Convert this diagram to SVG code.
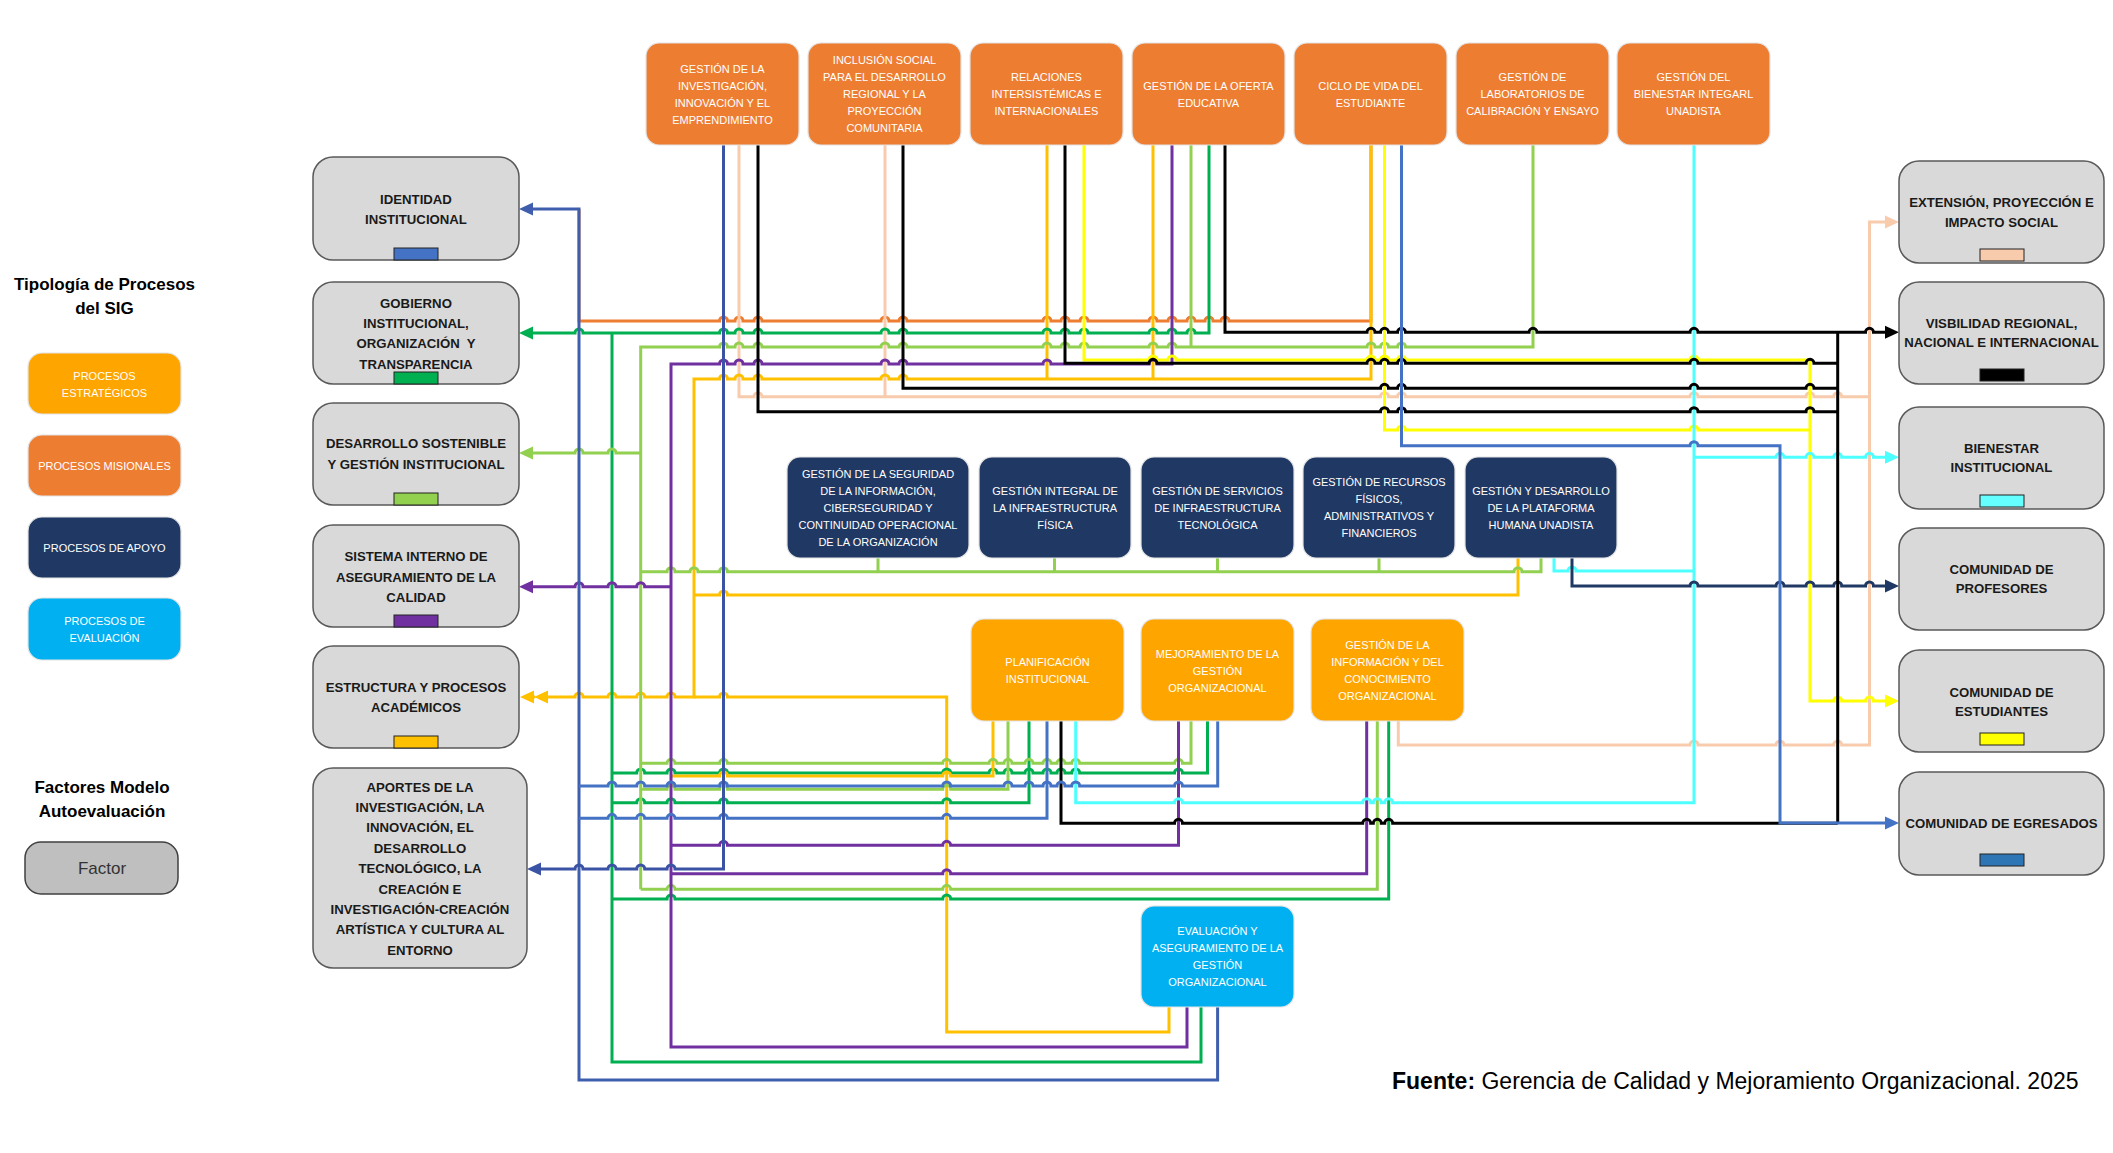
<svg xmlns="http://www.w3.org/2000/svg" width="2113" height="1153" viewBox="0 0 2113 1153">
<style>
.t{font-family:"Liberation Sans",Arial,sans-serif;font-size:11px;fill:#fff;text-anchor:middle}
.f{font-family:"Liberation Sans",Arial,sans-serif;font-size:13.2px;font-weight:bold;fill:#1a1a1a;text-anchor:middle}
.lg{font-family:"Liberation Sans",Arial,sans-serif;font-size:17px;font-weight:bold;fill:#000;text-anchor:middle}
.mis{fill:#ED7D31;stroke:#e3e3e3;stroke-width:1.2}
.apo{fill:#203864;stroke:#e3e3e3;stroke-width:1.2}
.est{fill:#FFA500;stroke:#e3e3e3;stroke-width:1.2}
.eva{fill:#00B0F0;stroke:#e3e3e3;stroke-width:1.2}
.fac{fill:#D9D9D9;stroke:#595959;stroke-width:1.5}
.sw{stroke:#222;stroke-width:1}
.ln{fill:none;stroke-width:3}
.o{stroke:#ED7D31}.pe{stroke:#F8CBAD}.go{stroke:#FFC000}.lgn{stroke:#92D050}.gn{stroke:#00B050}
.pu{stroke:#7030A0}.ye{stroke:#FFFF00}.cy{stroke:#4DFFFF}.nv{stroke:#203864}.bk{stroke:#000}
.b1{stroke:#3F5FAE}.b2{stroke:#4472C4}.b3{stroke:#3B53A4}
</style>
<defs>
<marker id="m-bk" markerUnits="userSpaceOnUse" markerWidth="15" markerHeight="14" viewBox="0 -7 15 14" refX="0" refY="0" orient="auto-start-reverse"><path d="M0,-6.5L14,0L0,6.5z" fill="#000"/></marker>
<marker id="m-pe" markerUnits="userSpaceOnUse" markerWidth="15" markerHeight="14" viewBox="0 -7 15 14" refX="0" refY="0" orient="auto-start-reverse"><path d="M0,-6.5L14,0L0,6.5z" fill="#F8CBAD"/></marker>
<marker id="m-go" markerUnits="userSpaceOnUse" markerWidth="15" markerHeight="14" viewBox="0 -7 15 14" refX="0" refY="0" orient="auto-start-reverse"><path d="M0,-6.5L14,0L0,6.5z" fill="#FFC000"/></marker>
<marker id="m-lg" markerUnits="userSpaceOnUse" markerWidth="15" markerHeight="14" viewBox="0 -7 15 14" refX="0" refY="0" orient="auto-start-reverse"><path d="M0,-6.5L14,0L0,6.5z" fill="#92D050"/></marker>
<marker id="m-gn" markerUnits="userSpaceOnUse" markerWidth="15" markerHeight="14" viewBox="0 -7 15 14" refX="0" refY="0" orient="auto-start-reverse"><path d="M0,-6.5L14,0L0,6.5z" fill="#00B050"/></marker>
<marker id="m-pu" markerUnits="userSpaceOnUse" markerWidth="15" markerHeight="14" viewBox="0 -7 15 14" refX="0" refY="0" orient="auto-start-reverse"><path d="M0,-6.5L14,0L0,6.5z" fill="#7030A0"/></marker>
<marker id="m-ye" markerUnits="userSpaceOnUse" markerWidth="15" markerHeight="14" viewBox="0 -7 15 14" refX="0" refY="0" orient="auto-start-reverse"><path d="M0,-6.5L14,0L0,6.5z" fill="#FFFF00"/></marker>
<marker id="m-cy" markerUnits="userSpaceOnUse" markerWidth="15" markerHeight="14" viewBox="0 -7 15 14" refX="0" refY="0" orient="auto-start-reverse"><path d="M0,-6.5L14,0L0,6.5z" fill="#4DFFFF"/></marker>
<marker id="m-nv" markerUnits="userSpaceOnUse" markerWidth="15" markerHeight="14" viewBox="0 -7 15 14" refX="0" refY="0" orient="auto-start-reverse"><path d="M0,-6.5L14,0L0,6.5z" fill="#203864"/></marker>
<marker id="m-b1" markerUnits="userSpaceOnUse" markerWidth="15" markerHeight="14" viewBox="0 -7 15 14" refX="0" refY="0" orient="auto-start-reverse"><path d="M0,-6.5L14,0L0,6.5z" fill="#3F5FAE"/></marker>
<marker id="m-b2" markerUnits="userSpaceOnUse" markerWidth="15" markerHeight="14" viewBox="0 -7 15 14" refX="0" refY="0" orient="auto-start-reverse"><path d="M0,-6.5L14,0L0,6.5z" fill="#4472C4"/></marker>
<marker id="m-b3" markerUnits="userSpaceOnUse" markerWidth="15" markerHeight="14" viewBox="0 -7 15 14" refX="0" refY="0" orient="auto-start-reverse"><path d="M0,-6.5L14,0L0,6.5z" fill="#3B53A4"/></marker>
</defs>
<rect width="2113" height="1153" fill="#fff"/>

<g id="connectors">
<path class="ln o" d="M579 209V321H719.5a4 4 0 0 1 8 0H735a4 4 0 0 1 8 0H754a4 4 0 0 1 8 0H881a4 4 0 0 1 8 0H899a4 4 0 0 1 8 0H1043a4 4 0 0 1 8 0H1061a4 4 0 0 1 8 0H1080a4 4 0 0 1 8 0H1149a4 4 0 0 1 8 0H1168a4 4 0 0 1 8 0H1187a4 4 0 0 1 8 0H1205a4 4 0 0 1 8 0H1221a4 4 0 0 1 8 0H1371V144"/>
<path class="ln pe" d="M739 144V396.7H754a4 4 0 0 1 8 0H1380.5a4 4 0 0 1 8 0H1397.5a4 4 0 0 1 8 0H1690a4 4 0 0 1 8 0H1806a4 4 0 0 1 8 0H1833.7a4 4 0 0 1 8 0H1869.5"/>
<path class="ln pe" d="M885 144V396.7"/>
<path class="ln pe" d="M1398.3 721V745H1690a4 4 0 0 1 8 0H1776a4 4 0 0 1 8 0H1833.7a4 4 0 0 1 8 0H1869.5V222H1885" marker-end="url(#m-pe)"/>

<path class="ln go" d="M548 697H575a4 4 0 0 1 8 0H608a4 4 0 0 1 8 0H636.7a4 4 0 0 1 8 0H667a4 4 0 0 1 8 0H694V379H719.5a4 4 0 0 1 8 0H735a4 4 0 0 1 8 0H754a4 4 0 0 1 8 0H881a4 4 0 0 1 8 0H899a4 4 0 0 1 8 0H1371V144" marker-start="url(#m-go)"/>
<path class="ln go" d="M534 697H535" marker-start="url(#m-go)"/>
<path class="ln go" d="M1047 144V379M1153 144V379"/>
<path class="ln go" d="M694 697H719.5a4 4 0 0 1 8 0H946.7V1032H1169V1007"/>
<path class="ln go" d="M694 595H719.5a4 4 0 0 1 8 0H1518V557"/>

<path class="ln gn" d="M533 333H575a4 4 0 0 1 8 0H719.5a4 4 0 0 1 8 0H735a4 4 0 0 1 8 0H754a4 4 0 0 1 8 0H881a4 4 0 0 1 8 0H899a4 4 0 0 1 8 0H1043a4 4 0 0 1 8 0H1061a4 4 0 0 1 8 0H1080a4 4 0 0 1 8 0H1149a4 4 0 0 1 8 0H1168a4 4 0 0 1 8 0H1187a4 4 0 0 1 8 0H1209V144" marker-start="url(#m-gn)"/>
<path class="ln gn" d="M612 333V1062H1201V1007"/>
<path class="ln gn" d="M612 773H636.7a4 4 0 0 1 8 0H667a4 4 0 0 1 8 0H719.5a4 4 0 0 1 8 0H942.7a4 4 0 0 1 8 0H989a4 4 0 0 1 8 0H1004a4 4 0 0 1 8 0H1025a4 4 0 0 1 8 0H1043a4 4 0 0 1 8 0H1057a4 4 0 0 1 8 0H1071.7a4 4 0 0 1 8 0H1174.5a4 4 0 0 1 8 0H1207.5V721"/>
<path class="ln gn" d="M612 802.7H636.7a4 4 0 0 1 8 0H667a4 4 0 0 1 8 0H719.5a4 4 0 0 1 8 0H942.7a4 4 0 0 1 8 0H1029V721"/>
<path class="ln gn" d="M612 899H667a4 4 0 0 1 8 0H942.7a4 4 0 0 1 8 0H1388.7V721"/>

<path class="ln go" d="M672 776H719.5a4 4 0 0 1 8 0H942.7a4 4 0 0 1 8 0H993V721"/>

<path class="ln lgn" d="M640.7 889.3V347H719.5a4 4 0 0 1 8 0H735a4 4 0 0 1 8 0H754a4 4 0 0 1 8 0H881a4 4 0 0 1 8 0H899a4 4 0 0 1 8 0H1043a4 4 0 0 1 8 0H1061a4 4 0 0 1 8 0H1080a4 4 0 0 1 8 0H1149a4 4 0 0 1 8 0H1168a4 4 0 0 1 8 0H1367a4 4 0 0 1 8 0H1380.5a4 4 0 0 1 8 0H1397.5a4 4 0 0 1 8 0H1533V144"/>
<path class="ln lgn" d="M1191 144V347"/>
<path class="ln lgn" d="M533 453H575a4 4 0 0 1 8 0H608a4 4 0 0 1 8 0H640.7" marker-start="url(#m-lg)"/>
<path class="ln lgn" d="M640.7 571.7H667a4 4 0 0 1 8 0H690a4 4 0 0 1 8 0H719.5a4 4 0 0 1 8 0H1514a4 4 0 0 1 8 0H1541V557"/>
<path class="ln lgn" d="M878 557V571.7M1054.5 557V571.7M1217.5 557V571.7M1379 557V571.7"/>
<path class="ln lgn" d="M640.7 763.3H667a4 4 0 0 1 8 0H719.5a4 4 0 0 1 8 0H942.7a4 4 0 0 1 8 0H989a4 4 0 0 1 8 0H1004a4 4 0 0 1 8 0H1025a4 4 0 0 1 8 0H1043a4 4 0 0 1 8 0H1057a4 4 0 0 1 8 0H1071.7a4 4 0 0 1 8 0H1174.5a4 4 0 0 1 8 0H1191V721"/>
<path class="ln lgn" d="M640.7 789.3H667a4 4 0 0 1 8 0H719.5a4 4 0 0 1 8 0H942.7a4 4 0 0 1 8 0H1008V721"/>
<path class="ln lgn" d="M640.7 889.3H667a4 4 0 0 1 8 0H942.7a4 4 0 0 1 8 0H1377.3V721"/>

<path class="ln pu" d="M1187 1007V1047H671V364H719.5a4 4 0 0 1 8 0H735a4 4 0 0 1 8 0H754a4 4 0 0 1 8 0H881a4 4 0 0 1 8 0H899a4 4 0 0 1 8 0H1043a4 4 0 0 1 8 0H1149a4 4 0 0 1 8 0H1172V144"/>
<path class="ln pu" d="M533 586.7H575a4 4 0 0 1 8 0H608a4 4 0 0 1 8 0H636.7a4 4 0 0 1 8 0H671" marker-start="url(#m-pu)"/>
<path class="ln pu" d="M671 845.3H719.5a4 4 0 0 1 8 0H942.7a4 4 0 0 1 8 0H1178.5V721"/>
<path class="ln pu" d="M671 873.7H942.7a4 4 0 0 1 8 0H1366.7V721"/>

<path class="ln ye" d="M1084 144V360H1149a4 4 0 0 1 8 0H1168a4 4 0 0 1 8 0H1367a4 4 0 0 1 8 0H1380.5a4 4 0 0 1 8 0H1397.5a4 4 0 0 1 8 0H1690a4 4 0 0 1 8 0H1810V701H1833.7a4 4 0 0 1 8 0H1865.5a4 4 0 0 1 8 0H1885" marker-end="url(#m-ye)"/>
<path class="ln ye" d="M1384.5 144V430H1397.5a4 4 0 0 1 8 0H1690a4 4 0 0 1 8 0H1810"/>

<path class="ln cy" d="M1075.7 721V802.7H1174.5a4 4 0 0 1 8 0H1362.7a4 4 0 0 1 8 0H1373.3a4 4 0 0 1 8 0H1384.7a4 4 0 0 1 8 0H1694V144"/>
<path class="ln cy" d="M1694 457.3H1776a4 4 0 0 1 8 0H1806a4 4 0 0 1 8 0H1833.7a4 4 0 0 1 8 0H1865.5a4 4 0 0 1 8 0H1885" marker-end="url(#m-cy)"/>
<path class="ln cy" d="M1554 557V571H1568a4 4 0 0 1 8 0H1694"/>

<path class="ln nv" d="M1572 557V586H1690a4 4 0 0 1 8 0H1776a4 4 0 0 1 8 0H1806a4 4 0 0 1 8 0H1833.7a4 4 0 0 1 8 0H1865.5a4 4 0 0 1 8 0H1885" marker-end="url(#m-nv)"/>

<path class="ln bk" d="M1225 144V332.3H1367a4 4 0 0 1 8 0H1380.5a4 4 0 0 1 8 0H1397.5a4 4 0 0 1 8 0H1529a4 4 0 0 1 8 0H1690a4 4 0 0 1 8 0H1865.5a4 4 0 0 1 8 0H1885" marker-end="url(#m-bk)"/>
<path class="ln bk" d="M1837.7 332.3V823.3"/>
<path class="ln bk" d="M1065 144V363.3H1149a4 4 0 0 1 8 0H1367a4 4 0 0 1 8 0H1380.5a4 4 0 0 1 8 0H1397.5a4 4 0 0 1 8 0H1690a4 4 0 0 1 8 0H1806a4 4 0 0 1 8 0H1837.7"/>
<path class="ln bk" d="M903 144V388.3H1380.5a4 4 0 0 1 8 0H1397.5a4 4 0 0 1 8 0H1690a4 4 0 0 1 8 0H1806a4 4 0 0 1 8 0H1837.7"/>
<path class="ln bk" d="M758 144V411.7H1380.5a4 4 0 0 1 8 0H1397.5a4 4 0 0 1 8 0H1690a4 4 0 0 1 8 0H1806a4 4 0 0 1 8 0H1837.7"/>
<path class="ln bk" d="M1061 721V823.3H1174.5a4 4 0 0 1 8 0H1362.7a4 4 0 0 1 8 0H1373.3a4 4 0 0 1 8 0H1384.7a4 4 0 0 1 8 0H1837.7"/>

<path class="ln b1" d="M533 209H579V1080H1217.6V1007" marker-start="url(#m-b1)"/>
<path class="ln b2" d="M579 786H608a4 4 0 0 1 8 0H636.7a4 4 0 0 1 8 0H667a4 4 0 0 1 8 0H719.5a4 4 0 0 1 8 0H942.7a4 4 0 0 1 8 0H1004a4 4 0 0 1 8 0H1025a4 4 0 0 1 8 0H1043a4 4 0 0 1 8 0H1057a4 4 0 0 1 8 0H1071.7a4 4 0 0 1 8 0H1174.5a4 4 0 0 1 8 0H1217.7V721"/>
<path class="ln b2" d="M579 818.3H608a4 4 0 0 1 8 0H636.7a4 4 0 0 1 8 0H667a4 4 0 0 1 8 0H719.5a4 4 0 0 1 8 0H942.7a4 4 0 0 1 8 0H1047V721"/>
<path class="ln b3" d="M541 869H575a4 4 0 0 1 8 0H608a4 4 0 0 1 8 0H636.7a4 4 0 0 1 8 0H667a4 4 0 0 1 8 0H723.5V144" marker-start="url(#m-b3)"/>
<path class="ln b2" d="M1401.5 144V445.7H1690a4 4 0 0 1 8 0H1780V823H1885" marker-end="url(#m-b2)"/>
</g>

<g id="legend">
<text class="lg" x="104.5" y="290">Tipología de Procesos</text>
<text class="lg" x="104.5" y="314">del SIG</text>
<g id="leg-estrategicos"><rect class="est" x="28" y="353" width="153" height="61" rx="14"/><text class="t" x="104.5" y="380">PROCESOS</text><text class="t" x="104.5" y="396.5">ESTRATÉGICOS</text></g>
<g id="leg-misionales"><rect class="mis" x="28" y="435" width="153" height="61" rx="14"/><text class="t" x="104.5" y="470">PROCESOS MISIONALES</text></g>
<g id="leg-apoyo"><rect class="apo" x="28" y="517" width="153" height="61" rx="14"/><text class="t" x="104.5" y="551.5">PROCESOS DE APOYO</text></g>
<g id="leg-evaluacion"><rect class="eva" x="28" y="598" width="153" height="62" rx="14"/><text class="t" x="104.5" y="625">PROCESOS DE</text><text class="t" x="104.5" y="641.5">EVALUACIÓN</text></g>
<text class="lg" x="102" y="793">Factores Modelo</text>
<text class="lg" x="102" y="817">Autoevaluación</text>
<g id="leg-factor"><rect x="25" y="842" width="153" height="52" rx="16" fill="#BFBFBF" stroke="#404040" stroke-width="1.5"/><text x="102" y="874" font-family="Liberation Sans, Arial, sans-serif" font-size="17" fill="#333" text-anchor="middle">Factor</text></g>
</g>

<g id="n-identidad"><rect class="fac" x="313" y="157" width="206" height="103" rx="20"/><text class="f" x="416" y="204">IDENTIDAD</text><text class="f" x="416" y="224">INSTITUCIONAL</text><rect class="sw" x="394" y="248" width="44" height="12" fill="#4472C4"/></g>
<g id="n-gobierno"><rect class="fac" x="313" y="282" width="206" height="102" rx="20"/><text class="f" x="416" y="307.5">GOBIERNO</text><text class="f" x="416" y="327.5">INSTITUCIONAL,</text><text class="f" x="416" y="348" xml:space="preserve">ORGANIZACIÓN  Y</text><text class="f" x="416" y="368.5">TRANSPARENCIA</text><rect class="sw" x="394" y="372" width="44" height="12" fill="#00B050"/></g>
<g id="n-desarrollo"><rect class="fac" x="313" y="403" width="206" height="102" rx="20"/><text class="f" x="416" y="448">DESARROLLO SOSTENIBLE</text><text class="f" x="416" y="469">Y GESTIÓN INSTITUCIONAL</text><rect class="sw" x="394" y="493" width="44" height="12" fill="#92D050"/></g>
<g id="n-sistema"><rect class="fac" x="313" y="525" width="206" height="102" rx="20"/><text class="f" x="416" y="561">SISTEMA INTERNO DE</text><text class="f" x="416" y="581.5">ASEGURAMIENTO DE LA</text><text class="f" x="416" y="601.5">CALIDAD</text><rect class="sw" x="394" y="615" width="44" height="12" fill="#7030A0"/></g>
<g id="n-estructura"><rect class="fac" x="313" y="646" width="206" height="102" rx="20"/><text class="f" x="416" y="691.5">ESTRUCTURA Y PROCESOS</text><text class="f" x="416" y="712">ACADÉMICOS</text><rect class="sw" x="394" y="736" width="44" height="12" fill="#FFC000"/></g>
<g id="n-aportes"><rect class="fac" x="313" y="768" width="214" height="200" rx="20"/>
<text class="f" x="420" y="791.5">APORTES DE LA</text><text class="f" x="420" y="811.9">INVESTIGACIÓN, LA</text><text class="f" x="420" y="832.3">INNOVACIÓN, EL</text><text class="f" x="420" y="852.7">DESARROLLO</text><text class="f" x="420" y="873.1">TECNOLÓGICO, LA</text><text class="f" x="420" y="893.5">CREACIÓN E</text><text class="f" x="420" y="913.9">INVESTIGACIÓN-CREACIÓN</text><text class="f" x="420" y="934.3">ARTÍSTICA Y CULTURA AL</text><text class="f" x="420" y="954.7">ENTORNO</text></g>

<g id="n-extension"><rect class="fac" x="1899" y="161" width="205" height="102" rx="20"/><text class="f" x="2001.5" y="207">EXTENSIÓN, PROYECCIÓN E</text><text class="f" x="2001.5" y="226.5">IMPACTO SOCIAL</text><rect class="sw" x="1980" y="249" width="44" height="12" fill="#F8CBAD"/></g>
<g id="n-visibilidad"><rect class="fac" x="1899" y="282" width="205" height="102" rx="20"/><text class="f" x="2001.5" y="328">VISBILIDAD REGIONAL,</text><text class="f" x="2001.5" y="347">NACIONAL E INTERNACIONAL</text><rect class="sw" x="1980" y="369" width="44" height="12" fill="#000"/></g>
<g id="n-bienestar"><rect class="fac" x="1899" y="407" width="205" height="102" rx="20"/><text class="f" x="2001.5" y="453">BIENESTAR</text><text class="f" x="2001.5" y="472">INSTITUCIONAL</text><rect class="sw" x="1980" y="495" width="44" height="12" fill="#66FFFF"/></g>
<g id="n-profesores"><rect class="fac" x="1899" y="528" width="205" height="102" rx="20"/><text class="f" x="2001.5" y="574">COMUNIDAD DE</text><text class="f" x="2001.5" y="593">PROFESORES</text></g>
<g id="n-estudiantes"><rect class="fac" x="1899" y="650" width="205" height="102" rx="20"/><text class="f" x="2001.5" y="697">COMUNIDAD DE</text><text class="f" x="2001.5" y="715.5">ESTUDIANTES</text><rect class="sw" x="1980" y="733" width="44" height="12" fill="#FFFF00"/></g>
<g id="n-egresados"><rect class="fac" x="1899" y="772" width="205" height="103" rx="20"/><text class="f" x="2001.5" y="828">COMUNIDAD DE EGRESADOS</text><rect class="sw" x="1980" y="854" width="44" height="12" fill="#2E75B6"/></g>

<g id="n-investigacion"><rect class="mis" x="646" y="43" width="153" height="102" rx="13"/><text class="t" x="722.5" y="73">GESTIÓN DE LA</text><text class="t" x="722.5" y="90">INVESTIGACIÓN,</text><text class="t" x="722.5" y="107">INNOVACIÓN Y EL</text><text class="t" x="722.5" y="124">EMPRENDIMIENTO</text></g>
<g id="n-inclusion"><rect class="mis" x="808" y="43" width="153" height="102" rx="13"/><text class="t" x="884.5" y="64">INCLUSIÓN SOCIAL</text><text class="t" x="884.5" y="81">PARA EL DESARROLLO</text><text class="t" x="884.5" y="98">REGIONAL Y LA</text><text class="t" x="884.5" y="115">PROYECCIÓN</text><text class="t" x="884.5" y="132">COMUNITARIA</text></g>
<g id="n-relaciones"><rect class="mis" x="970" y="43" width="153" height="102" rx="13"/><text class="t" x="1046.5" y="81">RELACIONES</text><text class="t" x="1046.5" y="98">INTERSISTÉMICAS E</text><text class="t" x="1046.5" y="115">INTERNACIONALES</text></g>
<g id="n-oferta"><rect class="mis" x="1132" y="43" width="153" height="102" rx="13"/><text class="t" x="1208.5" y="89.5">GESTIÓN DE LA OFERTA</text><text class="t" x="1208.5" y="106.5">EDUCATIVA</text></g>
<g id="n-ciclo"><rect class="mis" x="1294" y="43" width="153" height="102" rx="13"/><text class="t" x="1370.5" y="89.5">CICLO DE VIDA DEL</text><text class="t" x="1370.5" y="106.5">ESTUDIANTE</text></g>
<g id="n-laboratorios"><rect class="mis" x="1456" y="43" width="153" height="102" rx="13"/><text class="t" x="1532.5" y="81">GESTIÓN DE</text><text class="t" x="1532.5" y="98">LABORATORIOS DE</text><text class="t" x="1532.5" y="115">CALIBRACIÓN Y ENSAYO</text></g>
<g id="n-bienestar-integral"><rect class="mis" x="1617" y="43" width="153" height="102" rx="13"/><text class="t" x="1693.5" y="81">GESTIÓN DEL</text><text class="t" x="1693.5" y="98">BIENESTAR INTEGARL</text><text class="t" x="1693.5" y="115">UNADISTA</text></g>

<g id="n-seguridad"><rect class="apo" x="787" y="457" width="182" height="101" rx="13"/><text class="t" x="878" y="477.5">GESTIÓN DE LA SEGURIDAD</text><text class="t" x="878" y="494.5">DE LA INFORMACIÓN,</text><text class="t" x="878" y="511.5">CIBERSEGURIDAD Y</text><text class="t" x="878" y="528.5">CONTINUIDAD OPERACIONAL</text><text class="t" x="878" y="545.5">DE LA ORGANIZACIÓN</text></g>
<g id="n-infra-fisica"><rect class="apo" x="979" y="457" width="152" height="101" rx="13"/><text class="t" x="1055" y="494.5">GESTIÓN INTEGRAL DE</text><text class="t" x="1055" y="511.5">LA INFRAESTRUCTURA</text><text class="t" x="1055" y="528.5">FÍSICA</text></g>
<g id="n-infra-tec"><rect class="apo" x="1141" y="457" width="153" height="101" rx="13"/><text class="t" x="1217.5" y="494.5">GESTIÓN DE SERVICIOS</text><text class="t" x="1217.5" y="511.5">DE INFRAESTRUCTURA</text><text class="t" x="1217.5" y="528.5">TECNOLÓGICA</text></g>
<g id="n-recursos"><rect class="apo" x="1303" y="457" width="152" height="101" rx="13"/><text class="t" x="1379" y="486">GESTIÓN DE RECURSOS</text><text class="t" x="1379" y="503">FÍSICOS,</text><text class="t" x="1379" y="520">ADMINISTRATIVOS Y</text><text class="t" x="1379" y="537">FINANCIEROS</text></g>
<g id="n-plataforma"><rect class="apo" x="1465" y="457" width="152" height="101" rx="13"/><text class="t" x="1541" y="494.5">GESTIÓN Y DESARROLLO</text><text class="t" x="1541" y="511.5">DE LA PLATAFORMA</text><text class="t" x="1541" y="528.5">HUMANA UNADISTA</text></g>

<g id="n-planificacion"><rect class="est" x="971" y="619" width="153" height="102" rx="13"/><text class="t" x="1047.5" y="666">PLANIFICACIÓN</text><text class="t" x="1047.5" y="683">INSTITUCIONAL</text></g>
<g id="n-mejoramiento"><rect class="est" x="1141" y="619" width="153" height="102" rx="13"/><text class="t" x="1217.5" y="657.5">MEJORAMIENTO DE LA</text><text class="t" x="1217.5" y="674.5">GESTIÓN</text><text class="t" x="1217.5" y="691.5">ORGANIZACIONAL</text></g>
<g id="n-informacion"><rect class="est" x="1311" y="619" width="153" height="102" rx="13"/><text class="t" x="1387.5" y="648.5">GESTIÓN DE LA</text><text class="t" x="1387.5" y="665.5">INFORMACIÓN Y DEL</text><text class="t" x="1387.5" y="682.5">CONOCIMIENTO</text><text class="t" x="1387.5" y="699.5">ORGANIZACIONAL</text></g>

<g id="n-evaluacion"><rect class="eva" x="1141" y="906" width="153" height="101" rx="13"/><text class="t" x="1217.5" y="935">EVALUACIÓN Y</text><text class="t" x="1217.5" y="952">ASEGURAMIENTO DE LA</text><text class="t" x="1217.5" y="969">GESTIÓN</text><text class="t" x="1217.5" y="986">ORGANIZACIONAL</text></g>

<text x="1392" y="1089" font-family="Liberation Sans, Arial, sans-serif" font-size="23" fill="#000"><tspan font-weight="bold">Fuente:</tspan> Gerencia de Calidad y Mejoramiento Organizacional. 2025</text>
</svg>
